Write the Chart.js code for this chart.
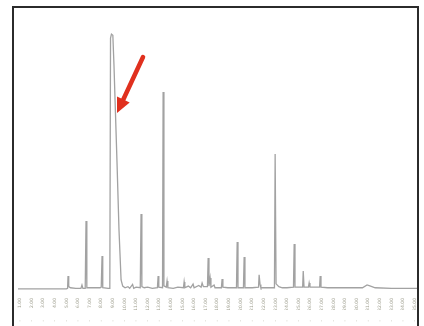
<!DOCTYPE html>
<html>
<head>
<meta charset="utf-8">
<script src="https://cdn.jsdelivr.net/npm/chart.js@4.4.1/dist/chart.umd.min.js"></script>
<style>
  html, body { margin: 0; padding: 0; background: #ffffff; overflow: hidden; }
  #wrap { position: relative; width: 424px; height: 326px; }
  #frame { position: absolute; left: 12px; top: 6px; width: 403px; height: 340px;
           border: 2px solid #2b2b2b; box-sizing: content-box; }
  canvas { position: absolute; left: 0; top: 0; }
</style>
</head>
<body>
<div id="wrap">
  <div id="frame"></div>
  <canvas id="c" width="424" height="326"></canvas>
</div>
<script>
// Retention time (min) and detector signal
const TIMES = [
  0.83, 3.0, 5.0, 5.10, 5.14, 5.20, 5.35, 5.8, 6.25, 6.34, 6.42, 6.62, 6.69, 6.76, 7.2, 7.9,
  8.00, 8.07, 8.13, 8.6, 8.74, 8.80, 8.88, 9.00, 9.10, 9.19, 9.36, 9.53, 9.71, 9.85, 10.05,
  10.3, 10.45, 10.7, 10.8, 11.0, 11.36, 11.43, 11.50, 11.7, 12.0, 12.4, 12.84, 12.90, 12.96,
  13.28, 13.33, 13.40, 13.60, 13.67, 13.74, 14.2, 14.6, 15.08, 15.14, 15.2, 15.5, 15.7, 15.91,
  16.0, 16.4, 16.6, 16.69, 16.8, 17.15, 17.21, 17.28, 17.38, 17.45, 17.72, 17.8, 18.35, 18.41,
  18.48, 18.9, 19.65, 19.71, 19.78, 20.25, 20.31, 20.38, 21.0, 21.55, 21.60, 21.68, 21.75, 22.0,
  22.92, 22.98, 23.06, 23.3, 23.6, 24.0, 24.56, 24.62, 24.69, 25.0, 25.35, 25.40, 25.47, 25.85,
  25.91, 25.98, 26.81, 26.86, 26.93, 27.5, 28.5, 30.5, 30.9, 31.2, 31.6, 33.0, 35.2
];
const SIGNAL = [
  4, 4, 4, 6, 50, 12, 8, 6, 6, 18, 6, 6, 246, 8, 8, 8,
  10, 121, 8, 6, 6, 900, 914, 910, 800, 679, 454, 214, 36, 14, 8,
  12, 6, 20, 6, 10, 8, 271, 12, 8, 10, 6, 8, 50, 10,
  8, 707, 15, 10, 32, 8, 6, 10, 8, 29, 8, 14, 8, 21,
  8, 16, 10, 25, 12, 12, 114, 14, 43, 10, 18, 8, 8, 39,
  10, 8, 8, 171, 8, 8, 118, 8, 8, 10, 54, 20, 8, 8,
  8, 486, 22, 12, 8, 8, 10, 164, 10, 10, 10, 68, 10, 10,
  25, 10, 10, 50, 10, 8, 8, 8, 18, 14, 8, 6, 6
];
// Axis tick positions (minutes) and their labels
const TICK_TIMES = [1,2,3,4,5,6,7,8,9,10,11,12,13,14,15,16,17,18,19,20,21,22,23,24,25,26,27,28,29,30,31,32,33,34,35];
const TICK_LABELS = TICK_TIMES.map(t => t.toFixed(2));
// Red arrow annotation: [tailTime, tailSignal, tipTime, tipSignal]
const ARROW = [11.6, 832, 9.36, 632];

const X_MIN = 0.83, X_MAX = 35.2, Y_MAX = 1000;

const points = TIMES.map((t, i) => ({ x: t, y: SIGNAL[i] }));

const arrowPlugin = {
  id: 'arrow',
  afterDatasetsDraw(chart) {
    const { ctx, scales: { x, y } } = chart;
    const x0 = x.getPixelForValue(ARROW[0]), y0 = y.getPixelForValue(ARROW[1]);
    const x1 = x.getPixelForValue(ARROW[2]), y1 = y.getPixelForValue(ARROW[3]);
    const ang = Math.atan2(y1 - y0, x1 - x0);
    const headLen = 15, headW = 7;
    const bx = x1 - headLen * Math.cos(ang), by = y1 - headLen * Math.sin(ang);
    ctx.save();
    ctx.strokeStyle = '#e0301e';
    ctx.fillStyle = '#e0301e';
    ctx.lineWidth = 4.5;
    ctx.lineCap = 'round';
    ctx.beginPath();
    ctx.moveTo(x0, y0);
    ctx.lineTo(bx + 2 * Math.cos(ang), by + 2 * Math.sin(ang));
    ctx.stroke();
    ctx.beginPath();
    ctx.moveTo(x1, y1);
    ctx.lineTo(bx + headW * Math.sin(ang), by - headW * Math.cos(ang));
    ctx.lineTo(bx - headW * Math.sin(ang), by + headW * Math.cos(ang));
    ctx.closePath();
    ctx.fill();
    ctx.restore();
  }
};

new Chart(document.getElementById('c'), {
  type: 'line',
  data: {
    datasets: [{
      data: points,
      borderColor: '#a2a2a2',
      borderWidth: 1.3,
      pointRadius: 0,
      tension: 0,
      fill: false
    }]
  },
  options: {
    responsive: false,
    animation: false,
    parsing: false,
    layout: { padding: { left: 18, right: 7, top: 10, bottom: 0 } },
    plugins: { legend: { display: false }, tooltip: { enabled: false } },
    scales: {
      x: {
        type: 'linear', position: 'bottom', min: X_MIN, max: X_MAX,
        grid: { display: false }, border: { display: false },
        afterBuildTicks: s => { s.ticks = TICK_TIMES.map(v => ({ value: v })); },
        afterFit: s => { s.height = 20; },
        ticks: {
          autoSkip: false, minRotation: 90, maxRotation: 90, padding: 0,
          color: '#a0a090', font: { family: 'DejaVu Sans', size: 4.5 },
          callback: (v, i) => TICK_LABELS[i]
        }
      },
      x2: {
        type: 'linear', position: 'bottom', min: X_MIN, max: X_MAX,
        grid: { display: false }, border: { display: false },
        afterBuildTicks: s => { s.ticks = TICK_TIMES.map(v => ({ value: v })); },
        afterFit: s => { s.height = 16; },
        ticks: {
          autoSkip: false, maxRotation: 0, padding: 0,
          color: '#b4b4a4', font: { family: 'DejaVu Sans', size: 6 },
          callback: () => '\u00b7'
        }
      },
      y: { display: false, min: 0, max: Y_MAX }
    }
  },
  plugins: [arrowPlugin]
});
</script>
</body>
</html>
